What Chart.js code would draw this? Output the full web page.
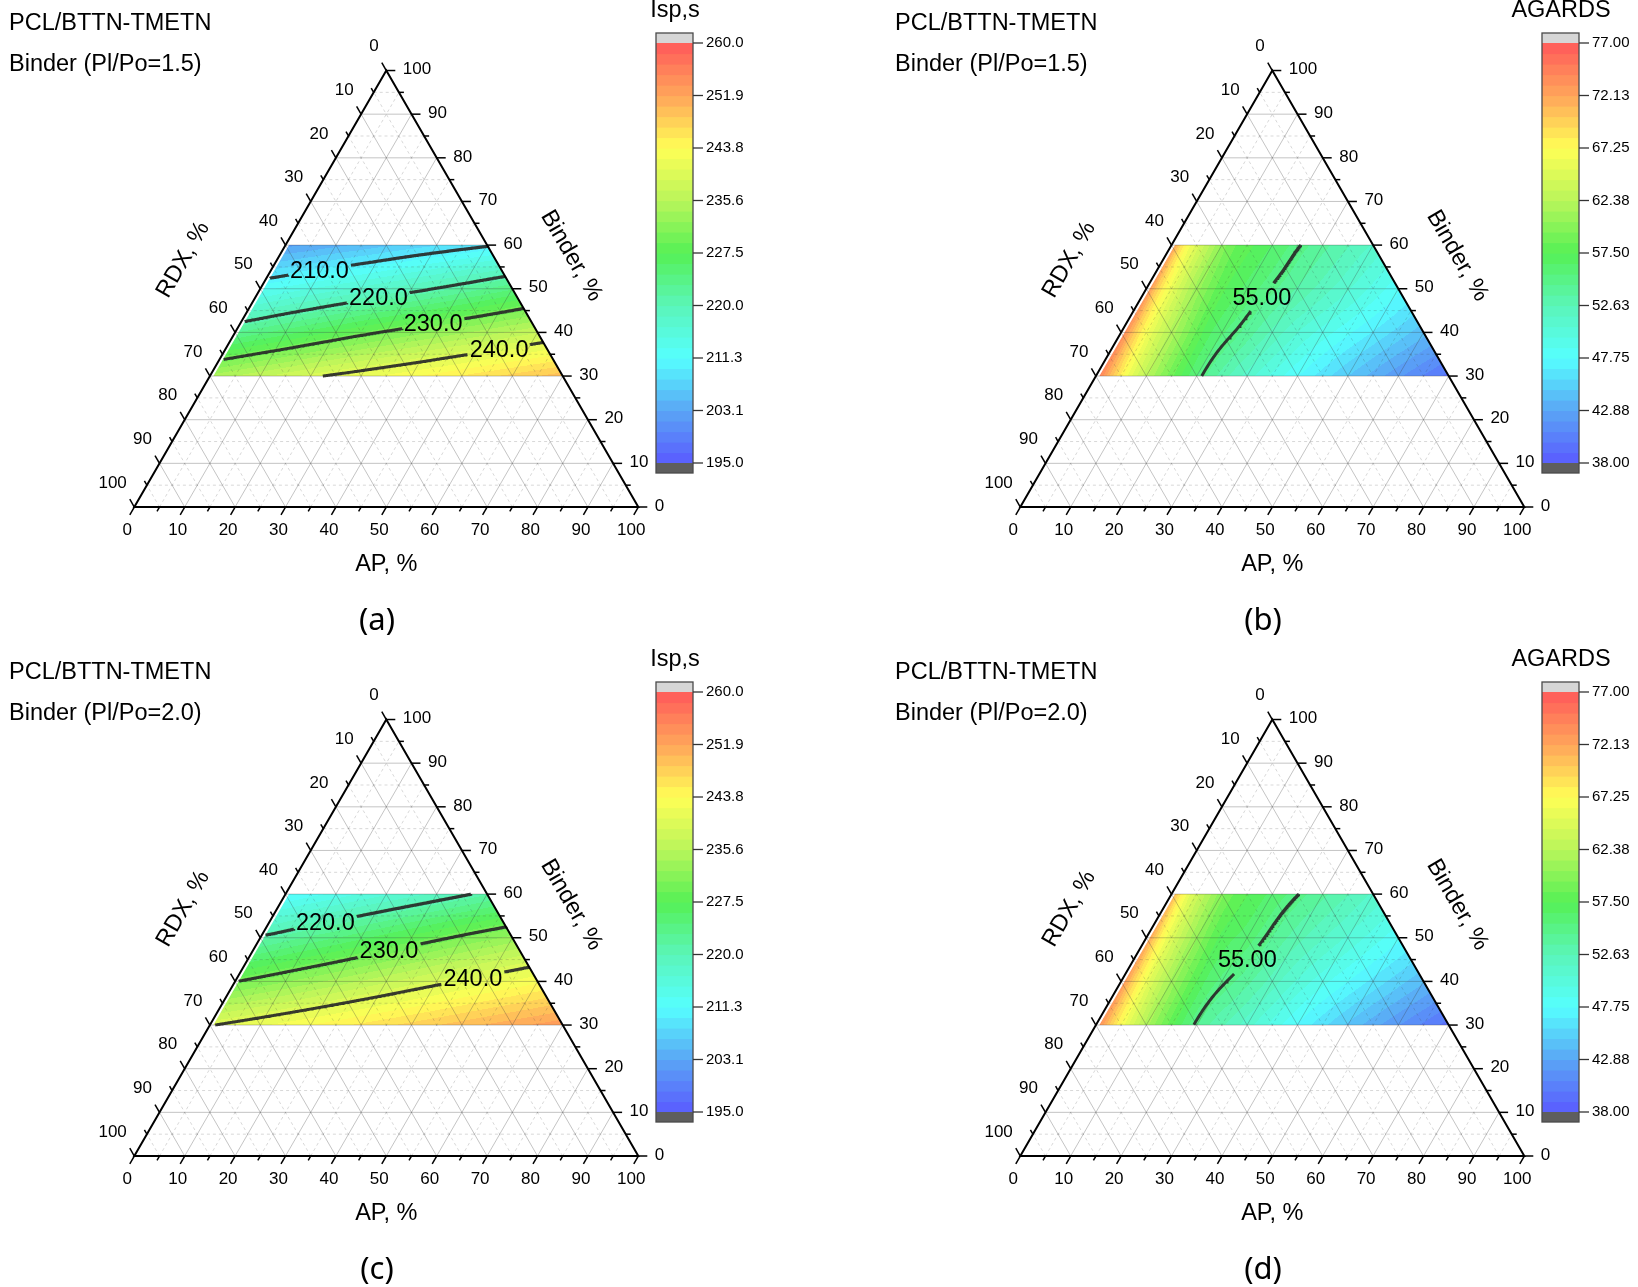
<!DOCTYPE html>
<html><head><meta charset="utf-8">
<script src="https://cdn.jsdelivr.net/npm/chart.js@4.4.1/dist/chart.umd.min.js"></script>
<style>
html,body{margin:0;padding:0;background:#fff;}
#wrap{position:relative;width:1638px;height:1287px;overflow:hidden;background:#fff;}
canvas{position:absolute;}
</style></head><body>
<div id="wrap">
<canvas id="pa" width="752" height="649" style="left:0;top:0"></canvas>
<canvas id="pb" width="752" height="649" style="left:886px;top:0"></canvas>
<canvas id="pc" width="752" height="638" style="left:0;top:649px"></canvas>
<canvas id="pd" width="752" height="638" style="left:886px;top:649px"></canvas>
</div>
<script>
// ---------------- DATA ----------------
// AP share of the solid filler, AP/(AP+RDX), %
const apShare = [0, 5, 10, 20, 30, 40, 60, 80, 100];
// Binder content, %
const binderLevels = [30, 40, 50, 60];
// rows follow binderLevels, columns follow apShare
const isp15 = [
  [234.4, 235.3, 236.2, 237.9, 239.7, 241.1, 243.9, 246.8, 249.6],
  [222.5, 223.3, 224.1, 225.7, 227.3, 228.9, 231.7, 234.4, 237.1],
  [212.3, 212.8, 213.4, 214.5, 215.6, 216.7, 219.0, 221.4, 224.0],
  [202.5, 202.9, 203.2, 203.9, 204.6, 205.3, 206.8, 208.2, 209.6]
];
const agards15 = [
  [75.5, 70.0, 65.5, 59.5, 55.0, 52.0, 47.2, 43.2, 39.6],
  [75.0, 69.6, 65.6, 60.5, 56.5, 54.5, 50.4, 47.2, 44.2],
  [74.5, 69.2, 65.8, 61.0, 57.8, 56.2, 53.5, 50.8, 48.0],
  [74.0, 69.0, 66.0, 62.0, 58.8, 57.6, 55.4, 53.5, 51.5]
];
const isp20 = [
  [239.8, 240.5, 241.2, 242.6, 244.0, 245.4, 248.0, 250.6, 253.0],
  [229.9, 230.6, 231.3, 232.7, 234.1, 235.5, 238.3, 240.9, 243.3],
  [220.4, 221.0, 221.7, 223.0, 224.2, 225.5, 228.1, 230.6, 232.9],
  [210.9, 211.4, 211.9, 212.9, 213.9, 214.9, 216.8, 218.8, 220.8]
];
const agards20 = [
  [74.5, 69.0, 64.8, 58.6, 54.2, 51.8, 47.0, 43.0, 39.5],
  [74.0, 68.8, 64.8, 59.6, 55.9, 54.2, 50.2, 47.0, 44.0],
  [73.5, 68.5, 65.0, 60.5, 57.2, 56.0, 53.0, 50.5, 48.0],
  [72.5, 68.0, 65.0, 61.3, 58.6, 57.3, 55.3, 53.4, 51.5]
];
// contour levels and the AP share (%) at which each contour label sits
const isp15Contours = [210, 220, 230, 240];
const isp15LabelAt = [21, 47, 66, 85];
const isp20Contours = [220, 230, 240];
const isp20LabelAt = [24, 51, 79];
const agards15Contours = [55];
const agards15LabelAt = [46];
const agards20Contours = [55];
const agards20LabelAt = [41];
// colour scale ranges and tick labels
const ispRange = [195, 260];
const ispBarTicks = ['195.0', '203.1', '211.3', '220.0', '227.5', '235.6', '243.8', '251.9', '260.0'];
const agardsRange = [38, 77];
const agardsBarTicks = ['38.00', '42.88', '47.75', '52.63', '57.50', '62.38', '67.25', '72.13', '77.00'];
// ternary axis ticks
const ternaryTicks = [0, 10, 20, 30, 40, 50, 60, 70, 80, 90, 100];
const ternaryMinorStep = 5;

// ---------------- STYLE / LAYOUT ----------------
const SQ = Math.sqrt(3) / 2;
const FONT = '"Liberation Sans", Arial, sans-serif';
const GEOM = { W: 752, triLeft: 134.3, triBase: 507, side: 504,
  cbLeft: 656, cbRight: 693, cbTop: 43, cbBottom: 463, cap: 10, bands: 40 };
const FILL_MIN_AP = 0.7;
const cmapStops = [[90,90,255],[90,165,245],[85,255,255],[90,245,185],[85,240,85],[185,245,90],[255,255,85],[255,165,90],[255,90,90]];

const panels = [
  { id: 'pa', H: 649, values: isp15, contours: isp15Contours, labelAt: isp15LabelAt, dec: 1, range: ispRange, barTicks: ispBarTicks, barTitle: 'Isp,s', sub: 'Binder (Pl/Po=1.5)', tag: '(a)' },
  { id: 'pb', H: 649, values: agards15, contours: agards15Contours, labelAt: agards15LabelAt, dec: 2, range: agardsRange, barTicks: agardsBarTicks, barTitle: 'AGARDS', sub: 'Binder (Pl/Po=1.5)', tag: '(b)' },
  { id: 'pc', H: 638, values: isp20, contours: isp20Contours, labelAt: isp20LabelAt, dec: 1, range: ispRange, barTicks: ispBarTicks, barTitle: 'Isp,s', sub: 'Binder (Pl/Po=2.0)', tag: '(c)' },
  { id: 'pd', H: 638, values: agards20, contours: agards20Contours, labelAt: agards20LabelAt, dec: 2, range: agardsRange, barTicks: agardsBarTicks, barTitle: 'AGARDS', sub: 'Binder (Pl/Po=2.0)', tag: '(d)' }
];

// ---------------- helpers ----------------
function seg(xs, x) {
  if (x <= xs[0]) return [0, 0];
  for (let i = 0; i < xs.length - 1; i++) if (x <= xs[i + 1]) return [i, (x - xs[i]) / (xs[i + 1] - xs[i])];
  return [xs.length - 2, 1];
}
// monotone cubic (PCHIP) interpolation
function pchipSlopes(xs, ys) {
  const n = xs.length, h = [], d = [], m = new Array(n);
  for (let i = 0; i < n - 1; i++) { h[i] = xs[i + 1] - xs[i]; d[i] = (ys[i + 1] - ys[i]) / h[i]; }
  m[0] = d[0]; m[n - 1] = d[n - 2];
  for (let i = 1; i < n - 1; i++) {
    if (d[i - 1] * d[i] <= 0) m[i] = 0;
    else {
      const w1 = 2 * h[i] + h[i - 1], w2 = h[i] + 2 * h[i - 1];
      m[i] = (w1 + w2) / (w1 / d[i - 1] + w2 / d[i]);
    }
  }
  return m;
}
function pchip(xs, ys, m, x) {
  const [i, u] = seg(xs, x), h = xs[i + 1] - xs[i];
  const u2 = u * u, u3 = u2 * u;
  return (2 * u3 - 3 * u2 + 1) * ys[i] + (u3 - 2 * u2 + u) * h * m[i] + (-2 * u3 + 3 * u2) * ys[i + 1] + (u3 - u2) * h * m[i + 1];
}
const slopeCache = new Map();
function rowSlopes(grid) {
  if (!slopeCache.has(grid)) slopeCache.set(grid, grid.map(r => pchipSlopes(apShare, r)));
  return slopeCache.get(grid);
}
function field(grid, t, b) {
  const S = rowSlopes(grid);
  const col = grid.map((r, k) => pchip(apShare, r, S[k], t));
  return pchip(binderLevels, col, pchipSlopes(binderLevels, col), b);
}
function cart(A, B) { return { x: A + B / 2, y: B * SQ }; }
const bMin = binderLevels[0], bMax = binderLevels[binderLevels.length - 1];
function solveB(grid, level, t) {
  let lo = bMin, hi = bMax, flo = field(grid, t, lo) - level;
  const fhi = field(grid, t, hi) - level;
  if (flo * fhi > 0) return null;
  for (let k = 0; k < 40; k++) {
    const m = (lo + hi) / 2, fm = field(grid, t, m) - level;
    if (fm * flo <= 0) hi = m; else { lo = m; flo = fm; }
  }
  return (lo + hi) / 2;
}
function contourPoints(grid, level) {
  const pts = [];
  for (let t = 0; t <= 100.0001; t += 0.25) {
    const B = solveB(grid, level, t);
    if (B === null) continue;
    const A = t / 100 * (100 - B);
    if (A < FILL_MIN_AP) continue;
    pts.push(cart(A, B));
  }
  return pts;
}
function cmap(f) {
  f = Math.max(0, Math.min(1, f));
  const p = f * (cmapStops.length - 1);
  const i = Math.min(cmapStops.length - 2, Math.floor(p)), u = p - i;
  const a = cmapStops[i], b = cmapStops[i + 1];
  return [0, 1, 2].map(k => Math.round(a[k] + (b[k] - a[k]) * u));
}
function bandColor(v, range) {
  const n = GEOM.bands;
  let k = Math.floor((v - range[0]) / (range[1] - range[0]) * n);
  k = Math.max(0, Math.min(n - 1, k));
  return cmap((k + 0.5) / n);
}
function toPx(chart, A, B) {
  const c = cart(A, B);
  return { x: chart.scales.x.getPixelForValue(c.x), y: chart.scales.y.getPixelForValue(c.y) };
}
function txt(ctx, s, x, y, size, align, rot, family) {
  ctx.save();
  ctx.font = size + 'px ' + (family || FONT);
  ctx.fillStyle = '#000';
  ctx.textAlign = align || 'left';
  ctx.textBaseline = 'middle';
  ctx.translate(x, y);
  if (rot) ctx.rotate(rot);
  ctx.fillText(s, 0, 0);
  ctx.restore();
}
function gapColor(c) {
  const L = c.chart.$labels || [];
  const mx = (c.p0.x + c.p1.x) / 2, my = (c.p0.y + c.p1.y) / 2;
  for (const l of L) {
    if (mx >= l.box[0] && mx <= l.box[2] && my >= l.box[1] && my <= l.box[3]) return 'rgba(0,0,0,0)';
  }
  return undefined;
}

// ---------------- drawing ----------------
function drawFill(chart, p) {
  const sx = chart.scales.x, sy = chart.scales.y, ctx = chart.ctx;
  const corners = [[FILL_MIN_AP, bMin], [100 - bMin, bMin], [100 - bMax, bMax], [FILL_MIN_AP, bMax]].map(c => toPx(chart, c[0], c[1]));
  const x0 = Math.floor(Math.min(...corners.map(c => c.x))) - 2, x1 = Math.ceil(Math.max(...corners.map(c => c.x))) + 2;
  const y0 = Math.floor(Math.min(...corners.map(c => c.y))) - 2, y1 = Math.ceil(Math.max(...corners.map(c => c.y))) + 2;
  const w = x1 - x0, h = y1 - y0;
  const off = document.createElement('canvas'); off.width = w; off.height = h;
  const octx = off.getContext('2d');
  const img = octx.createImageData(w, h);
  for (let j = 0; j < h; j++) {
    const Y = sy.getValueForPixel(y0 + j + 0.5);
    const B = Math.max(bMin, Math.min(bMax, Y / SQ));
    for (let i = 0; i < w; i++) {
      const X = sx.getValueForPixel(x0 + i + 0.5);
      const A = X - B / 2;
      const t = Math.max(0, Math.min(100, A / (100 - B) * 100));
      const col = bandColor(field(p.values, t, B), p.range);
      const o = (j * w + i) * 4;
      img.data[o] = col[0]; img.data[o + 1] = col[1]; img.data[o + 2] = col[2]; img.data[o + 3] = 255;
    }
  }
  octx.putImageData(img, 0, 0);
  ctx.save();
  ctx.beginPath();
  corners.forEach((c, k) => k ? ctx.lineTo(c.x, c.y) : ctx.moveTo(c.x, c.y));
  ctx.closePath();
  ctx.clip();
  ctx.drawImage(off, x0, y0);
  ctx.restore();
}
function drawGrid(chart) {
  const ctx = chart.ctx;
  ctx.save();
  ctx.lineWidth = 1;
  for (let v = ternaryMinorStep; v < 100; v += ternaryMinorStep) {
    const major = v % 10 === 0;
    ctx.strokeStyle = major ? 'rgba(60,60,60,0.30)' : 'rgba(60,60,60,0.20)';
    ctx.setLineDash(major ? [] : [3, 3]);
    const lines = [
      [toPx(chart, 0, v), toPx(chart, 100 - v, v)],
      [toPx(chart, v, 0), toPx(chart, v, 100 - v)],
      [toPx(chart, 100 - v, 0), toPx(chart, 0, 100 - v)]
    ];
    for (const [a, b] of lines) { ctx.beginPath(); ctx.moveTo(a.x, a.y); ctx.lineTo(b.x, b.y); ctx.stroke(); }
  }
  ctx.restore();
}
function drawAxes(chart) {
  const ctx = chart.ctx;
  const bl = toPx(chart, 0, 0), br = toPx(chart, 100, 0), tp = toPx(chart, 0, 100);
  ctx.save();
  ctx.strokeStyle = '#000'; ctx.lineWidth = 2; ctx.lineJoin = 'miter';
  ctx.beginPath(); ctx.moveTo(bl.x, bl.y); ctx.lineTo(br.x, br.y); ctx.lineTo(tp.x, tp.y); ctx.closePath(); ctx.stroke();
  ctx.lineWidth = 1.5;
  for (let v = 0; v <= 100; v += ternaryMinorStep) {
    const major = ternaryTicks.includes(v);
    const len = major ? 9 : 5;
    const ticks = [
      [toPx(chart, v, 0), -0.5, SQ],
      [toPx(chart, 0, 100 - v), -0.5, -SQ],
      [toPx(chart, 100 - v, v), 1, 0]
    ];
    for (const [pt, dx, dy] of ticks) {
      ctx.beginPath(); ctx.moveTo(pt.x, pt.y); ctx.lineTo(pt.x + dx * len, pt.y + dy * len); ctx.stroke();
    }
  }
  ctx.restore();
  for (const v of ternaryTicks) {
    const b = toPx(chart, v, 0);
    txt(ctx, String(v), b.x - 7, b.y + 23, 17, 'center');
    const l = toPx(chart, 0, 100 - v);
    txt(ctx, String(v), l.x - 7.5, l.y - 24, 17, 'right');
    const r = toPx(chart, 100 - v, v);
    txt(ctx, String(v), r.x + 16.5, r.y - 1, 17, 'left');
  }
  const mb = toPx(chart, 50, 0), ml = toPx(chart, 0, 50), mr = toPx(chart, 50, 50);
  txt(ctx, 'AP, %', mb.x, mb.y + 57.5, 23.5, 'center');
  txt(ctx, 'RDX, %', ml.x - 77, ml.y - 29, 23.5, 'center', -Math.PI / 3);
  txt(ctx, 'Binder, %', mr.x + 59, mr.y - 33, 23.5, 'center', Math.PI / 3);
}
function drawColorbar(chart, p) {
  const ctx = chart.ctx, cb = chart.scales.cb;
  const n = GEOM.bands, r0 = p.range[0], r1 = p.range[1], d = (r1 - r0) / n;
  const L = GEOM.cbLeft, R = GEOM.cbRight;
  ctx.save();
  for (let k = 0; k < n; k++) {
    const ya = cb.getPixelForValue(r0 + k * d), yb = cb.getPixelForValue(r0 + (k + 1) * d);
    const c = cmap((k + 0.5) / n);
    ctx.fillStyle = 'rgb(' + c.join(',') + ')';
    ctx.fillRect(L, yb, R - L, ya - yb + 0.6);
  }
  const yTop = cb.getPixelForValue(r1), yBot = cb.getPixelForValue(r0);
  ctx.fillStyle = '#d6d6d6'; ctx.fillRect(L, yTop - GEOM.cap, R - L, GEOM.cap);
  ctx.fillStyle = '#5e5e5e'; ctx.fillRect(L, yBot, R - L, GEOM.cap);
  ctx.strokeStyle = '#4a4a4a'; ctx.lineWidth = 1.3;
  ctx.strokeRect(L, yTop - GEOM.cap, R - L, yBot - yTop + 2 * GEOM.cap);
  ctx.strokeStyle = '#333'; ctx.lineWidth = 1.3;
  const m = p.barTicks.length - 1;
  p.barTicks.forEach((lab, i) => {
    const y = cb.getPixelForValue(r0 + i * (r1 - r0) / m);
    ctx.beginPath(); ctx.moveTo(R, y); ctx.lineTo(R + 10, y); ctx.stroke();
    txt(ctx, lab, R + 13, y, 15, 'left');
  });
  ctx.restore();
  txt(ctx, p.barTitle, (L + R) / 2 + 0.5, 11, 23.5, 'center');
}
function ternaryPlugin(p) {
  return {
    id: 'ternary_' + p.id,
    afterLayout(chart) {
      const sx = chart.scales.x, sy = chart.scales.y, ctx = chart.ctx;
      ctx.save(); ctx.font = '23.5px ' + FONT;
      chart.$labels = p.contours.map((level, i) => {
        const t = p.labelAt[i];
        const B = solveB(p.values, level, t);
        const c = cart(t / 100 * (100 - B), B);
        const s = level.toFixed(p.dec);
        const w = ctx.measureText(s).width;
        const px = sx.getPixelForValue(c.x), py = sy.getPixelForValue(c.y);
        return { s, px, py, box: [px - w / 2 - 2, py - 14, px + w / 2 + 2, py + 14] };
      });
      ctx.restore();
    },
    beforeDatasetsDraw(chart) { drawFill(chart, p); drawGrid(chart); },
    afterDatasetsDraw(chart) {
      const ctx = chart.ctx;
      for (const l of chart.$labels) txt(ctx, l.s, l.px, l.py + 1, 23.5, 'center');
      drawAxes(chart);
      drawColorbar(chart, p);
      txt(ctx, 'PCL/BTTN-TMETN', 9, 24, 23.5, 'left');
      txt(ctx, p.sub, 9, 64.5, 23.5, 'left');
      txt(ctx, p.tag, 377, 621, 31, 'center', 0, '"Noto Sans", "DejaVu Sans", sans-serif');
    }
  };
}

// ---------------- charts ----------------
for (const p of panels) {
  const ppu = GEOM.side / 100;
  const xMin = -GEOM.triLeft / ppu, xMax = (GEOM.W - GEOM.triLeft) / ppu;
  const yMax = GEOM.triBase / ppu, yMin = yMax - p.H / ppu;
  const cbPpu = (GEOM.cbBottom - GEOM.cbTop) / (p.range[1] - p.range[0]);
  const cbMax = p.range[1] + GEOM.cbTop / cbPpu, cbMin = cbMax - p.H / cbPpu;
  new Chart(document.getElementById(p.id), {
    type: 'scatter',
    data: {
      datasets: p.contours.map(level => ({
        label: level.toFixed(p.dec),
        data: contourPoints(p.values, level),
        showLine: true,
        borderColor: 'rgba(40,40,40,0.92)',
        borderWidth: 3,
        pointRadius: 0,
        pointHoverRadius: 0,
        tension: 0,
        fill: false,
        segment: { borderColor: gapColor }
      }))
    },
    options: {
      responsive: false,
      animation: false,
      devicePixelRatio: 1,
      events: [],
      layout: { padding: 0 },
      plugins: { legend: { display: false }, tooltip: { enabled: false } },
      scales: {
        x: { type: 'linear', display: false, min: xMin, max: xMax },
        y: { type: 'linear', display: false, min: yMin, max: yMax },
        cb: { type: 'linear', axis: 'y', display: false, min: cbMin, max: cbMax }
      }
    },
    plugins: [ternaryPlugin(p)]
  });
}
</script>
</body></html>
